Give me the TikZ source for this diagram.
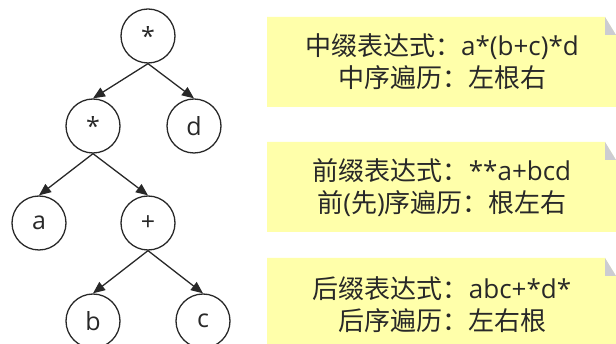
\documentclass[tikz,border=0pt]{standalone}
\usepackage{fontspec}
\setmainfont{Open Sans}
\newfontfamily\cjk{Noto Sans CJK SC}
\usetikzlibrary{arrows.meta}
\definecolor{noteyellow}{RGB}{255,255,170}
\definecolor{foldgrey}{RGB}{204,204,210}
\definecolor{ink}{RGB}{40,40,40}
\tikzset{
  tnode/.style={circle,draw=ink,line width=1.3pt,minimum size=54pt,inner sep=0pt,font=\fontsize{25}{25}\selectfont,text=ink},
  edge/.style={draw=ink,line width=1.3pt,-{Triangle[length=12pt,width=10pt]}},
  notebg/.style={fill=noteyellow},
  notefold/.style={fill=foldgrey},
  notetext/.style={align=center,text=ink,font=\fontsize{26}{32}\selectfont,inner sep=0pt}
}
\begin{document}
\begin{tikzpicture}[x=1pt,y=-1pt]
\useasboundingbox (0,0) rectangle (616,344);
% tree
\node[tnode] (r) at (148,36) {*};
\node[tnode] (m) at (93,126) {*};
\node[tnode] (d) at (194,126) {d};
\node[tnode] (a) at (39,223) {a};
\node[tnode] (p) at (148,223) {+};
\node[tnode] (b) at (93,321) {b};
\node[tnode] (c) at (203,321) {c};
\draw[edge] (r.south) -- (m.north);
\draw[edge] (r.south) -- (d.north);
\draw[edge] (m.south) -- (a.north);
\draw[edge] (m.south) -- (p.north);
\draw[edge] (p.south) -- (b.north);
\draw[edge] (p.south) -- (c.north);
% notes
\foreach \t/\b in {17/107,142/232,258/348}{
  \fill[notebg] (267,\t) -- (605,\t) -- (616,\t+18) -- (616,\b) -- (267,\b) -- cycle;
  \fill[notefold] (605,\t) -- (616,\t+18) -- (605,\t+18) -- cycle;
}
\node[notetext] (n1) at (442,62) {{\cjk 中缀表达式：}a*(b+c)*d\\{\cjk 中序遍历：左根右}};
\node[notetext] (n2) at (442,188) {{\cjk 前缀表达式：}**a+bcd\\{\cjk 前}({\cjk 先}){\cjk 序遍历：根左右}};
\node[notetext] (n3) at (442,305) {{\cjk 后缀表达式：}abc+*d*\\{\cjk 后序遍历：左右根}};
\end{tikzpicture}
\end{document}
